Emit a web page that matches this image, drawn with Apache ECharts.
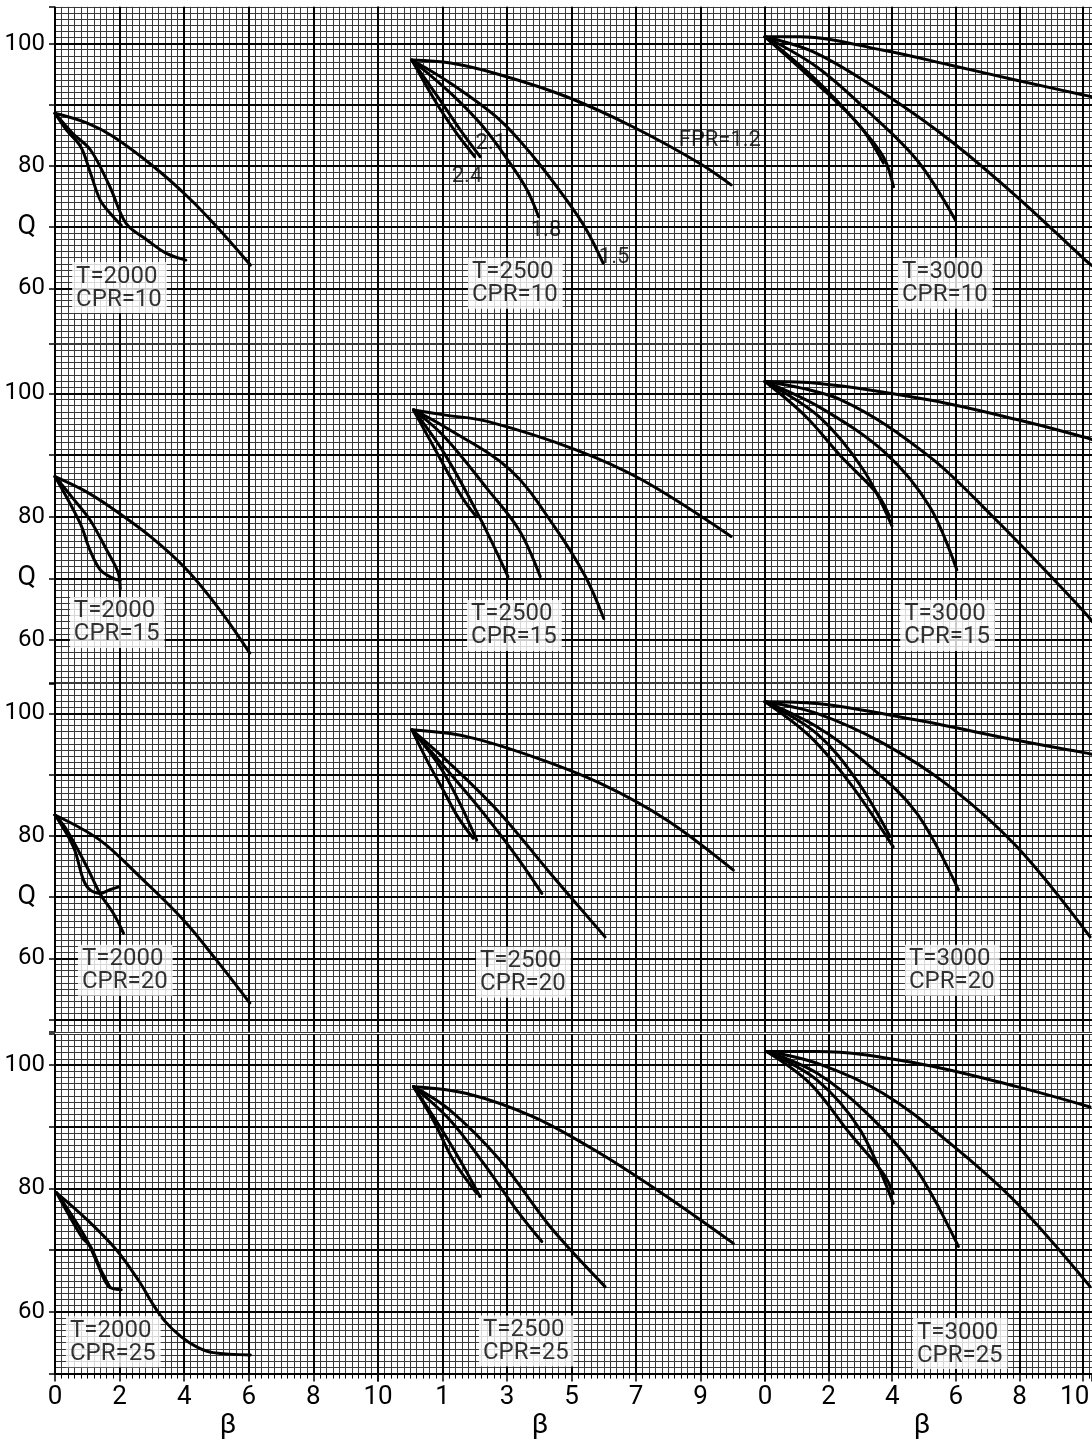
<!DOCTYPE html>
<html>
<head>
<meta charset="utf-8">
<script src="https://cdn.jsdelivr.net/npm/echarts@6/dist/echarts.min.js"></script>
<style>
  html, body { margin: 0; padding: 0; background: #fff; }
  #chart { width: 1092px; height: 1444px; }
</style>
</head>
<body>
<div id="chart"></div>
<script>
// Panel parameters
const TEMPS = [2000, 2500, 3000];
const CPRS = [10, 15, 20, 25];
const FPR = [1.2, 1.5, 1.8, 2.1, 2.4];

// Tick labels
const Q_LABELS = [60, 80, 100];
const BETA_LABELS_LEFT = [0, 2, 4, 6, 8, 10];
const BETA_LABELS_MID = [1, 3, 5, 7, 9];
const BETA_LABELS_RIGHT = [0, 2, 4, 6, 8, 10];

// Curves [beta, Q], one list per FPR (1.2, 1.5, 1.8, 2.1, 2.4)
const T2000_CPR10 = [
  [[0, 88.6], [1.0, 87.0], [1.8, 84.8], [3.05, 79.9], [4.1, 75.0], [5.0, 70.1], [6.05, 63.8]],
  [[0, 88.6], [0.55, 85.3], [1.1, 82.6], [1.7, 76.6], [2.2, 70.6], [2.85, 67.9], [3.45, 65.7], [4.05, 64.6]],
  [[0, 88.6], [0.35, 85.9], [0.8, 83.1], [1.1, 78.8], [1.4, 74.4], [1.7, 72.3], [2.05, 70.3]]
];
const T2500_CPR10 = [
  [[0.05, 97.3], [1.25, 96.8], [2.78, 94.9], [4.85, 91.3], [6.9, 86.4], [8.98, 80.4], [9.95, 76.9]],
  [[0.05, 97.3], [1.25, 93.5], [2.78, 87.5], [3.82, 81.5], [4.85, 74.4], [5.47, 69.5], [5.98, 64.1]],
  [[0.05, 97.3], [1.25, 91.9], [2.26, 86.4], [3.1, 80.4], [3.62, 76.1], [3.98, 71.7]],
  [[0.05, 97.3], [0.92, 90.8], [1.55, 85.9], [2.17, 81.5]],
  [[0.05, 97.3], [0.82, 90.2], [1.44, 85.3], [2.0, 81.5]]
];
const T3000_CPR10 = [
  [[0, 101.1], [1.1, 101.1], [3.72, 98.9], [5.81, 96.5], [7.91, 94.0], [10.01, 91.6], [10.28, 91.3]],
  [[0, 101.1], [1.62, 98.4], [3.72, 91.9], [5.81, 84.2], [7.91, 75.0], [10.01, 64.9], [10.28, 63.7]],
  [[0, 101.1], [1.62, 96.2], [3.2, 89.1], [4.77, 81.0], [5.98, 71.2]],
  [[0, 101.1], [1.62, 94.0], [2.9, 87.0], [3.72, 81.5], [4.04, 76.6]],
  [[0, 101.1], [1.62, 93.5], [3.0, 86.4], [3.72, 80.5]]
];
const T2000_CPR15 = [
  [[0, 86.5], [0.88, 84.3], [1.7, 81.6], [2.95, 76.8], [4.08, 71.4], [5.1, 64.9], [6.03, 57.9]],
  [[0, 86.5], [0.55, 83.0], [1.08, 79.5], [1.6, 74.6], [1.95, 71.0], [2.02, 68.3]],
  [[0, 86.5], [0.78, 78.9], [1.08, 74.6], [1.4, 71.4], [1.8, 70.0], [2.02, 69.7]]
];
const T2500_CPR15 = [
  [[0.1, 97.3], [1.05, 96.5], [2.42, 95.4], [5.16, 90.8], [7.21, 85.9], [9.95, 76.8]],
  [[0.1, 97.3], [1.05, 94.6], [3.1, 87.6], [4.47, 78.4], [5.43, 70.3], [6.0, 63.5]],
  [[0.1, 97.3], [1.05, 93.0], [2.42, 84.3], [3.38, 77.8], [4.03, 70.3]],
  [[0.1, 97.3], [1.05, 90.3], [2.14, 80.0], [3.03, 70.3]],
  [[0.1, 97.3], [0.78, 90.8], [1.6, 83.2], [2.05, 80.0]]
];
const T3000_CPR15 = [
  [[0, 101.9], [1.7, 101.6], [5.18, 98.9], [7.95, 95.7], [10.17, 92.7], [10.28, 92.5]],
  [[0, 101.9], [2.4, 98.9], [5.18, 89.7], [7.26, 79.5], [8.64, 72.2], [10.17, 63.8], [10.28, 63.0]],
  [[0, 101.9], [1.7, 97.8], [3.79, 90.3], [5.18, 81.6], [6.03, 71.4]],
  [[0, 101.9], [1.7, 96.2], [3.09, 87.6], [3.99, 78.5]],
  [[0, 101.9], [1.29, 96.2], [2.4, 89.7], [3.51, 83.8], [3.92, 80.0]]
];
const T2000_CPR20 = [
  [[0, 83.4], [1.39, 79.3], [2.63, 73.3], [3.97, 66.3], [5.0, 59.7], [6.03, 52.7]],
  [[0, 83.4], [0.36, 81.0], [0.98, 75.0], [1.39, 70.6], [1.81, 67.3], [2.12, 64.1]],
  [[0, 83.4], [0.57, 78.2], [0.88, 72.8], [1.08, 71.2], [1.39, 70.6], [1.7, 71.2], [2.0, 71.7]]
];
const T2500_CPR20 = [
  [[0.05, 97.3], [1.75, 96.2], [3.82, 92.9], [5.88, 88.6], [7.95, 82.6], [10.02, 74.4]],
  [[0.05, 97.3], [1.23, 91.8], [2.78, 83.7], [4.34, 73.9], [6.04, 63.5]],
  [[0.05, 97.3], [1.23, 90.2], [2.27, 83.7], [3.3, 76.6], [4.08, 70.6]],
  [[0.05, 97.3], [0.92, 91.3], [1.54, 85.3], [2.06, 79.3]],
  [[0.05, 97.3], [0.55, 92.0], [1.02, 87.5], [1.45, 83.3], [1.95, 79.6]]
];
const T3000_CPR20 = [
  [[0, 101.9], [1.63, 101.6], [4.77, 98.9], [7.92, 95.6], [10.12, 93.5], [10.28, 93.3]],
  [[0, 101.9], [1.63, 100.0], [3.72, 95.1], [5.82, 88.0], [7.92, 78.2], [10.22, 63.5]],
  [[0, 101.9], [1.63, 97.8], [3.2, 91.8], [4.77, 83.7], [6.08, 71.2]],
  [[0, 101.9], [1.63, 96.7], [2.88, 89.1], [3.93, 79.9]],
  [[0, 101.9], [1.42, 96.2], [2.67, 88.6], [4.03, 78.2]]
];
const T2000_CPR25 = [
  [[0.05, 79.3], [1.0, 74.9], [1.91, 70.0], [2.6, 65.0], [3.0, 61.5], [3.4, 58.5], [3.9, 56.0], [4.4, 54.3], [4.9, 53.4], [6.05, 53.0]],
  [[0.05, 79.3], [0.5, 75.8], [1.0, 71.5], [1.3, 68.0], [1.65, 64.2], [2.05, 63.6]],
  [[0.05, 79.3], [0.45, 75.5], [0.85, 72.0], [1.1, 70.6], [1.4, 67.0], [1.7, 64.0]]
];
const T2500_CPR25 = [
  [[0.1, 96.5], [1.75, 95.4], [3.82, 91.6], [5.88, 85.7], [7.95, 78.7], [10.02, 71.1]],
  [[0.1, 96.5], [1.23, 92.7], [2.78, 84.6], [4.34, 73.8], [6.04, 64.1]],
  [[0.1, 96.5], [1.23, 91.1], [2.27, 84.1], [3.3, 76.5], [4.08, 71.4]],
  [[0.1, 96.5], [0.92, 90.0], [1.54, 84.6], [2.16, 78.7]],
  [[0.1, 96.5], [0.71, 91.1], [1.33, 84.6], [2.06, 79.2]]
];
const T3000_CPR25 = [
  [[0.05, 102.2], [1.63, 102.2], [4.77, 100.3], [7.92, 96.5], [10.22, 93.2]],
  [[0.05, 102.2], [1.63, 100.3], [3.72, 95.4], [5.82, 87.3], [7.92, 77.6], [10.22, 64.1]],
  [[0.05, 102.2], [1.63, 98.7], [3.2, 92.2], [4.77, 83.0], [6.08, 70.6]],
  [[0.05, 102.2], [1.63, 97.6], [2.99, 89.5], [4.03, 77.6]],
  [[0.05, 102.2], [1.42, 97.0], [2.67, 88.9], [3.72, 82.4], [4.03, 79.2]]
];

const PANELS = [
  [T2000_CPR10, T2500_CPR10, T3000_CPR10],
  [T2000_CPR15, T2500_CPR15, T3000_CPR15],
  [T2000_CPR20, T2500_CPR20, T3000_CPR20],
  [T2000_CPR25, T2500_CPR25, T3000_CPR25]
];

// ---- layout (pixels / anchor coordinates) ----
const COLS = [
  { left: 55,  width: 323, min: 0,  max: 10,    labels: BETA_LABELS_LEFT,  namePad: [0, 0, 0, 23] },
  { left: 378, width: 387, min: -1, max: 11,    labels: BETA_LABELS_MID,   namePad: [0, 63, 0, 0] },
  { left: 765, width: 327, min: 0,  max: 10.28, labels: BETA_LABELS_RIGHT, namePad: [0, 13, 0, 0] }
];
const ROWS = [
  { top: 6.8,    height: 336.6, min: 51, max: 106 },
  { top: 343.9,  height: 339.4, min: 53, max: 108 },
  { top: 682.7,  height: 349.1, min: 48, max: 105 },
  { top: 1034.2, height: 339.4, min: 50, max: 105 }
];
// top-left corner of each "T= / CPR=" tag, in the panel's own (beta, Q)
const TAG_AT = [
  [[0.53, 64.3], [1.79, 65.0], [4.18, 65.0]],
  [[0.46, 67.0], [1.76, 66.5], [4.25, 66.5]],
  [[0.71, 62.2], [2.04, 61.9], [4.4, 62.2]],
  [[0.34, 59.3], [2.13, 59.4], [4.65, 59.0]]
];
// centre of each FPR note in the T=2500, CPR=10 panel (same order as FPR)
const FPR_TAG_AT = [[9.6, 84.2], [6.32, 65.0], [4.21, 69.5], [2.5, 83.7], [1.76, 78.2]];

const FONT = 'Roboto, "Liberation Sans", "DejaVu Sans", sans-serif';
const MINOR = '#383838';
const MAJOR = '#000';

const grid = [], xAxis = [], yAxis = [], series = [];

ROWS.forEach((row, r) => {
  COLS.forEach((col, c) => {
    const g = grid.length;
    const isBottom = r === ROWS.length - 1;
    const isLeft = c === 0;
    const isLastCol = c === COLS.length - 1;
    grid.push({
      left: col.left, top: row.top, width: col.width, height: row.height,
      containLabel: false, outerBoundsMode: 'none', show: false
    });

    // fine ruling of the graph paper
    xAxis.push({
      gridIndex: g, type: 'value', position: 'bottom', min: col.min, max: col.max, interval: 0.2, z: 0,
      axisLine: { show: false }, axisTick: { show: false }, axisLabel: { show: false },
      splitLine: { show: true, lineStyle: { color: MINOR, width: 1 } }
    });
    yAxis.push({
      gridIndex: g, type: 'value', position: 'left', min: row.min, max: row.max, interval: 1, z: 0,
      axisLine: { show: false }, axisTick: { show: false }, axisLabel: { show: false },
      splitLine: { show: true, lineStyle: { color: MINOR, width: 1 } }
    });

    // heavy ruling + scales
    const xi = xAxis.length;
    xAxis.push({
      gridIndex: g, type: 'value', position: 'bottom', offset: 0,
      min: col.min, max: col.max, interval: 2, z: 1,
      axisLine: { show: isBottom, onZero: false, lineStyle: { color: '#000', width: 2 } },
      axisTick: { show: isBottom, length: 8, lineStyle: { color: '#000', width: 1.5 } },
      minorTick: { show: isBottom, splitNumber: 10, length: 5, lineStyle: { color: '#000', width: 1 } },
      axisLabel: {
        show: isBottom, margin: 11, color: '#000', fontFamily: FONT, fontSize: 26,
        formatter: v => {
          const hit = col.labels.find(t => Math.abs(t - v) < 1e-6);
          if (hit === undefined) return '';
          // the last label of the right-hand scale sits against the page edge
          return (isLastCol && hit === col.labels[col.labels.length - 1]) ? '{e|' + hit + '}' : String(hit);
        },
        rich: { e: { fontFamily: FONT, fontSize: 26, color: '#000', width: 46, align: 'left' } }
      },
      name: isBottom ? 'β' : '', nameLocation: 'middle', nameGap: 36,
      nameTextStyle: { fontFamily: FONT, fontSize: 28, color: '#000', padding: col.namePad },
      splitLine: { show: true, showMaxLine: !isLastCol, lineStyle: { color: MAJOR, width: 2 } }
    });
    const yi = yAxis.length;
    yAxis.push({
      gridIndex: g, type: 'value', position: 'left', offset: 0,
      min: row.min, max: row.max, minInterval: 10, maxInterval: 10, splitNumber: 5, z: 1,
      axisLine: { show: false, onZero: false },
      axisTick: { show: isLeft, length: 6, lineStyle: { color: '#000', width: 1.5 } },
      axisLabel: {
        show: isLeft, margin: 10, color: '#000', fontFamily: FONT, fontSize: 24,
        formatter: v => {
          if (Q_LABELS.includes(v)) return String(v);
          if (v === 70 && r < 3) return '{q|Q}';
          return '';
        },
        rich: { q: { fontFamily: FONT, fontSize: 27, color: '#000', padding: [0, 9, 0, 0] } }
      },
      splitLine: { show: true, showMinLine: false, showMaxLine: false, lineStyle: { color: MAJOR, width: 2 } }
    });

    PANELS[r][c].forEach((pts, k) => {
      series.push({
        type: 'line', name: 'FPR=' + FPR[k], xAxisIndex: xi, yAxisIndex: yi, data: pts,
        symbol: 'none', smooth: 0.35, silent: true, z: 3,
        lineStyle: { color: '#000', width: 3, cap: 'round', join: 'round' }
      });
    });

    series.push({
      type: 'scatter', xAxisIndex: xi, yAxisIndex: yi, data: [TAG_AT[r][c]],
      symbolSize: 0, silent: true, z: 5,
      label: {
        show: true, position: [0, 0], align: 'left', verticalAlign: 'top',
        formatter: 'T=' + TEMPS[c] + '\nCPR=' + CPRS[r],
        backgroundColor: '#fff', padding: [3, 5, 2, 4],
        fontFamily: FONT, fontSize: 24, lineHeight: 23, color: '#000'
      }
    });

    if (r === 0 && c === 1) {
      series.push({
        type: 'scatter', xAxisIndex: xi, yAxisIndex: yi, data: FPR_TAG_AT,
        symbolSize: 0, silent: true, z: 5,
        label: {
          show: true, position: [0, 0], align: 'center', verticalAlign: 'middle',
          formatter: p => p.dataIndex === 0 ? 'FPR=' + FPR[0].toFixed(1) : FPR[p.dataIndex].toFixed(1),
          fontFamily: FONT, fontSize: 22, color: '#000'
        }
      });
    }
  });
});

const chart = echarts.init(document.getElementById('chart'), null, { renderer: 'canvas' });
chart.setOption({
  backgroundColor: '#fff',
  animation: false,
  textStyle: { fontFamily: FONT },
  grid, xAxis, yAxis, series
});
</script>
</body>
</html>
